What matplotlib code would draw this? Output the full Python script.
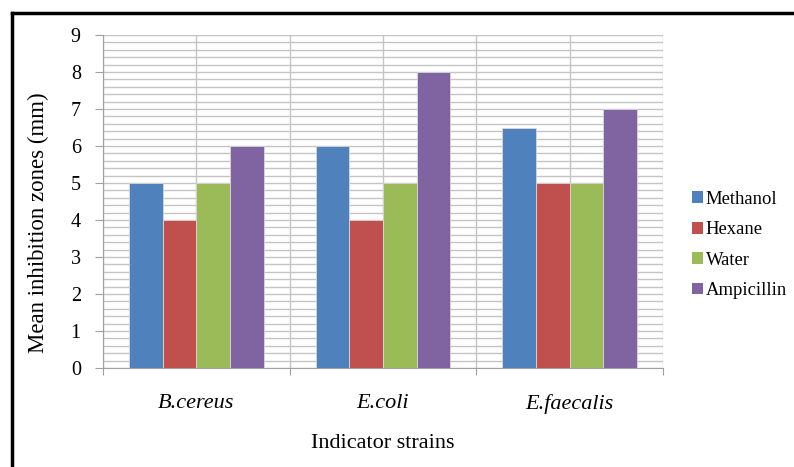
import numpy as np
import matplotlib
matplotlib.use('Agg')
import matplotlib.pyplot as plt
from matplotlib.lines import Line2D
from matplotlib.patches import Patch

# Data
strains = ['B.cereus', 'E.coli', 'E.faecalis']
methanol = [5, 6, 6.5]
hexane = [4, 4, 5]
water = [5, 5, 5]
ampicillin = [6, 8, 7]

series = ['Methanol', 'Hexane', 'Water', 'Ampicillin']
colors = ['#4F81BD', '#C0504D', '#9BBB59', '#8064A2']

plt.rcParams['font.family'] = ['Liberation Serif', 'DejaVu Serif']

W, H = 794, 467
fig = plt.figure(figsize=(W/100, H/100), dpi=100)
ax = fig.add_axes([103/W, 1-368/H, (663-103)/W, (368-35)/H])

x = np.arange(len(strains))
bw = 0.18
for i, (name, vals) in enumerate(zip(series, [methanol, hexane, water, ampicillin])):
    ax.bar(x + (i-1.5)*bw, vals, bw, color=colors[i], edgecolor='#d8d8d8',
           linewidth=0.6, zorder=3, label=name)

ax.set_xlim(-0.5, 2.5)
ax.set_ylim(0, 9)
ax.set_yticks(range(10))
ax.set_yticks(np.arange(0, 9.01, 0.2), minor=True)
ax.set_xticks([-0.5, 0.5, 1.5, 2.5])
ax.set_xticklabels([])
ax.set_xticks(x, minor=True)
ax.set_xticklabels(strains, minor=True, style='italic', fontsize=16)
ax.tick_params(axis='x', which='minor', length=0, pad=19)
ax.tick_params(axis='x', which='major', length=5, color='#a0a0a0')
ax.tick_params(axis='y', which='major', length=6, color='#a0a0a0', labelsize=14.5, pad=10)
ax.tick_params(axis='y', which='minor', length=0)

ax.grid(True, which='both', axis='y', color='#c4c4c4', linewidth=1.0, zorder=0)
for xv in [-0.5, 0, 0.5, 1, 1.5, 2, 2.5]:
    ax.axvline(xv, color='#c4c4c4', linewidth=1.0, zorder=0)
ax.set_axisbelow(True)

for s in ['top', 'right']:
    ax.spines[s].set_visible(False)
ax.spines['left'].set_color('#a0a0a0')
ax.spines['bottom'].set_color('#a0a0a0')

ax.set_ylabel('Mean inhibition zones (mm)', fontsize=16.5, va='center')
ax.yaxis.set_label_coords(-0.116, 0.435)
ax.set_xlabel('Indicator strains', fontsize=16, labelpad=14)

handles = [Patch(facecolor=c, edgecolor='none', label=s) for c, s in zip(colors, series)]
fig.legend(handles=handles, loc='center left', bbox_to_anchor=(675/W, 1-245/H),
           frameon=False, fontsize=13.4, handlelength=0.6, handleheight=0.6,
           handletextpad=0.15, labelspacing=0.72)

# outer border
fig.add_artist(Line2D([12/W, 1], [1-13/H, 1-13/H], color='black', linewidth=2.5,
                      transform=fig.transFigure))
fig.add_artist(Line2D([12/W, 12/W], [0, 1-13/H], color='black', linewidth=2.5,
                      transform=fig.transFigure))

fig.savefig('out.png', dpi=100)
